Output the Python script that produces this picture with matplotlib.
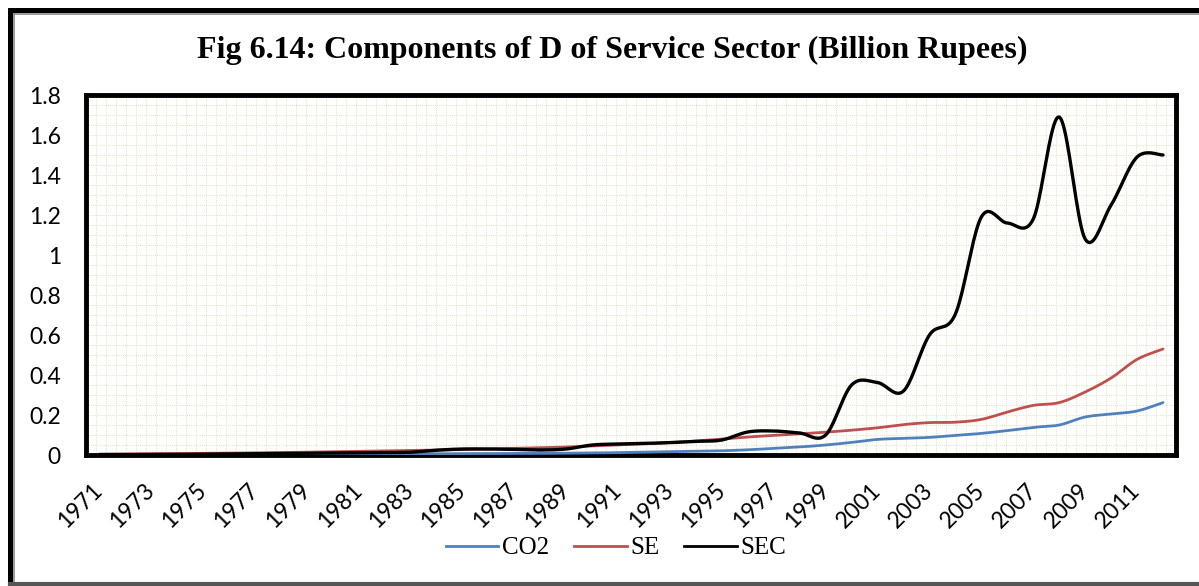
import numpy as np
import matplotlib
matplotlib.use('Agg')
import matplotlib.pyplot as plt
from matplotlib.lines import Line2D

# años 1971-2012
anios = list(range(1971, 2013))

co2 = [0.002, 0.002, 0.002, 0.003, 0.003, 0.003, 0.004, 0.004, 0.004, 0.005,
       0.005, 0.005, 0.006, 0.006, 0.007, 0.007, 0.008, 0.008, 0.009, 0.010,
       0.012, 0.014, 0.016, 0.018, 0.021, 0.026, 0.033, 0.040, 0.050, 0.063,
       0.078, 0.083, 0.088, 0.098, 0.108, 0.122, 0.138, 0.150, 0.190, 0.205,
       0.220, 0.262]

se = [0.004, 0.005, 0.006, 0.007, 0.008, 0.009, 0.011, 0.012, 0.014, 0.016,
      0.018, 0.020, 0.022, 0.024, 0.027, 0.030, 0.033, 0.036, 0.040, 0.045,
      0.050, 0.055, 0.062, 0.070, 0.080, 0.090, 0.098, 0.106, 0.114, 0.124,
      0.136, 0.152, 0.162, 0.164, 0.178, 0.215, 0.248, 0.262, 0.315, 0.385,
      0.478, 0.530]

sec = [0.002, 0.002, 0.003, 0.003, 0.004, 0.005, 0.006, 0.007, 0.008, 0.010,
       0.011, 0.012, 0.014, 0.024, 0.030, 0.030, 0.028, 0.025, 0.030, 0.050,
       0.055, 0.058, 0.062, 0.068, 0.075, 0.115, 0.120, 0.110, 0.100, 0.350,
       0.362, 0.320, 0.600, 0.705, 1.190, 1.160, 1.180, 1.690, 1.080, 1.250,
       1.490, 1.500]

etiquetas = [str(a) if (a - 1971) % 2 == 0 else '' for a in anios]


def suavizar(y, pasos=20):
    """Curva suavizada (bezier tipo Catmull-Rom) que pasa por todos los puntos."""
    y = np.asarray(y, dtype=float)
    x = np.arange(len(y), dtype=float)
    xs, ys = [], []
    n = len(y)
    for i in range(n - 1):
        i0 = max(i - 1, 0)
        i3 = min(i + 2, n - 1)
        p0 = np.array([x[i], y[i]])
        p3 = np.array([x[i + 1], y[i + 1]])
        p1 = p0 + (np.array([x[i + 1], y[i + 1]]) - np.array([x[i0], y[i0]])) / 6
        p2 = p3 - (np.array([x[i3], y[i3]]) - np.array([x[i], y[i]])) / 6
        t = np.linspace(0, 1, pasos, endpoint=(i == n - 2))
        c = ((1 - t) ** 3)[:, None] * p0 + (3 * (1 - t) ** 2 * t)[:, None] * p1 \
            + (3 * (1 - t) * t ** 2)[:, None] * p2 + (t ** 3)[:, None] * p3
        xs.extend(c[:, 0])
        ys.extend(c[:, 1])
    return np.array(xs), np.array(ys)


W, H = 1199, 586
fig = plt.figure(figsize=(W / 100, H / 100), dpi=100)
fig.patch.set_facecolor('white')

ax = fig.add_axes([86 / W, 1 - 455 / H, (1176 - 86) / W, (455 - 95) / H])
ax.set_facecolor('#fffffd')

# cuadriculado de fondo (trama punteada)
for xp in np.arange(0, 1, 10 / 1090):
    ax.axvline(-0.5 + xp * 42, color='#e6dec6', lw=0.7, ls=(0, (1, 1.2)), zorder=0)
for yp in np.arange(0, 1.8, 0.05):
    ax.axhline(yp, color='#e6dec6', lw=0.7, ls=(0, (1, 1.2)), zorder=0)

colores = {'CO2': '#4f81bd', 'SE': '#c0504d', 'SEC': '#000000'}
anchos = {'CO2': 2.0, 'SE': 2.0, 'SEC': 2.4}
for nombre, serie in [('CO2', co2), ('SE', se), ('SEC', sec)]:
    xs, ys = suavizar(serie)
    ax.plot(xs, ys, color=colores[nombre], lw=anchos[nombre], zorder=3,
            solid_capstyle='round')

ax.set_xlim(-0.5, len(anios) - 0.5)
ax.set_ylim(0, 1.8)
ax.set_yticks(np.arange(0, 1.81, 0.2))
ax.set_yticklabels(['%g' % round(v, 1) for v in np.arange(0, 1.81, 0.2)],
                   fontsize=16.5, family='Lato')
ax.set_xticks(range(len(anios)))
ax.set_xticklabels(etiquetas, rotation=45, ha='right', va='center',
                   rotation_mode='anchor', fontsize=16.5, family='Lato')
ax.tick_params(axis='both', length=0)
ax.tick_params(axis='y', pad=18)
ax.tick_params(axis='x', pad=23)
for s in ax.spines.values():
    s.set_linewidth(3.5)
    s.set_color('black')

fig.text(612 / W, 1 - 50 / H, 'Fig 6.14: Components of D of Service Sector (Billion Rupees)',
         ha='center', va='center', fontsize=23, fontweight='bold',
         family='Liberation Serif')

handles = [Line2D([], [], color=colores[k], lw=2.0) for k in ['CO2', 'SE', 'SEC']]
fig.legend(handles, ['CO2', 'SE', 'SEC'], loc='center', ncol=3,
           bbox_to_anchor=(616 / W, 1 - 548 / H), frameon=False,
           prop={'family': 'Liberation Serif', 'size': 18},
           handlelength=2.1, handletextpad=0.15, columnspacing=1.0)

# marco exterior
fig.add_artist(Line2D([9.5 / W, 9.5 / W], [0, 1 - 9.5 / H], color='black', lw=3.6,
                      transform=fig.transFigure))
fig.add_artist(Line2D([9.5 / W, 1], [1 - 9.5 / H, 1 - 9.5 / H], color='black', lw=3.6,
                      transform=fig.transFigure))
fig.add_artist(Line2D([13.5 / W, 13.5 / W], [3 / H, 1 - 13.5 / H], color='#8a8a8a', lw=1.2,
                      transform=fig.transFigure))
fig.add_artist(Line2D([13.5 / W, 1], [1 - 13.5 / H, 1 - 13.5 / H], color='#8a8a8a', lw=1.2,
                      transform=fig.transFigure))
fig.add_artist(Line2D([9.5 / W, 1], [2 / H, 2 / H], color='#555555', lw=3,
                      transform=fig.transFigure))

fig.savefig('out.png', dpi=100)
